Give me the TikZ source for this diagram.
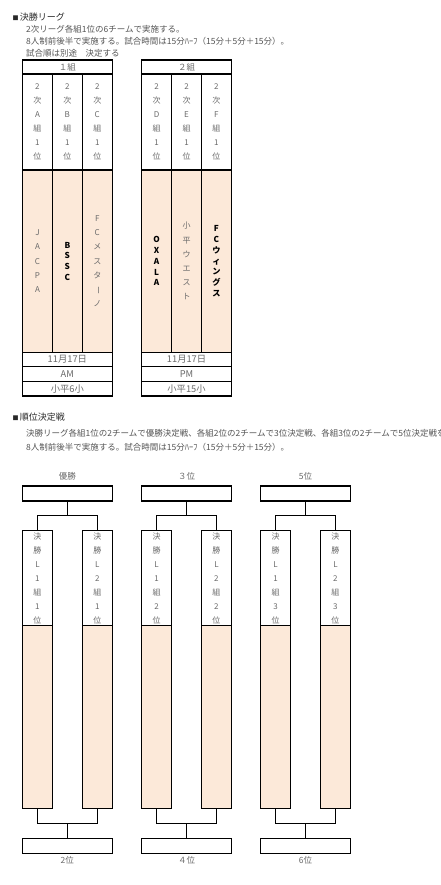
\documentclass[tikz,border=0pt]{standalone}
\usepackage{fontspec}
\setmainfont{Noto Sans CJK JP}
\usepackage{graphicx}
\usetikzlibrary{calc}
\definecolor{peach}{RGB}{252,233,217}
\definecolor{bodycol}{RGB}{85,85,85}
\definecolor{headcol}{RGB}{40,40,40}
\definecolor{cellcol}{RGB}{105,105,105}
\newcommand{\vbarchar}{\rotatebox[origin=c]{-90}{ー}}
\newcommand{\sqbullet}{{\fontsize{6}{6}\selectfont ■}\hspace{1.2pt}}
\begin{document}
\begin{tikzpicture}[x=1pt,y=-1pt,
  frame/.style={draw=black, line width=1.2pt, rectangle, inner sep=0pt, outer sep=0pt, anchor=north west},
  whitecell/.style={frame, minimum width=29.9pt, align=center, text=cellcol, font=\fontsize{8}{14}\selectfont},
  peachcell/.style={frame, fill=peach, minimum width=29.9pt, align=center},
  softtxt/.style={text=cellcol, font=\fontsize{8}{14.2}\selectfont},
  boldtxt/.style={text=black, font=\fontsize{8.2}{10.8}\selectfont\bfseries},
  rowcell/.style={frame, minimum width=89.7pt, text=cellcol, font=\fontsize{9.3}{11}\selectfont},
  bodytext/.style={anchor=west, inner sep=0pt, text=bodycol, font=\fontsize{8.5}{10}\selectfont},
  headtext/.style={anchor=west, inner sep=0pt, text=headcol, font=\fontsize{9}{11}\selectfont},
  labeltxt/.style={inner sep=0pt, text=cellcol, font=\fontsize{8.5}{10}\selectfont}
]
\useasboundingbox (0,0) rectangle (440,885);

% ---------- section 1 text ----------
\node[headtext] (head1) at (12.5,17.5) {\sqbullet 決勝リーグ};
\node[bodytext] (l1a) at (26,29.5) {2次リーグ各組1位の6チームで実施する。};
\node[bodytext] (l1b) at (26,41.5) {8人制前後半で実施する。試合時間は15分ﾊｰﾌ（15分＋5分＋15分）。};
\node[bodytext] (l1c) at (26,53) {試合順は別途　決定する};

% ---------- group 1 ----------
\node[rowcell, minimum height=14pt, font=\fontsize{8.5}{10}\selectfont] (h1) at (22.5,60) {１組};
\node[whitecell, minimum height=96pt] (w1a) at (22.5,74) {2\\次\\A\\組\\1\\位};
\node[whitecell, minimum height=96pt] (w1b) at (52.4,74) {2\\次\\B\\組\\1\\位};
\node[whitecell, minimum height=96pt] (w1c) at (82.3,74) {2\\次\\C\\組\\1\\位};
\node[peachcell, softtxt, minimum height=182.5pt] (p1a) at (22.5,170) {J\\A\\C\\P\\A};
\node[peachcell, boldtxt, minimum height=182.5pt] (p1b) at (52.4,170) {B\\S\\S\\C};
\node[peachcell, softtxt, minimum height=182.5pt] (p1c) at (82.3,170) {F\\C\\メ\\ス\\タ\\\vbarchar\\ノ};
\node[rowcell, minimum height=14pt] (d1) at (22.5,352.5) {11月17日};
\node[rowcell, minimum height=15pt] (t1) at (22.5,366.5) {AM};
\node[rowcell, minimum height=14.5pt] (v1) at (22.5,381.5) {小平6小};

% ---------- group 2 ----------
\node[rowcell, minimum height=14pt, font=\fontsize{8.5}{10}\selectfont] (h2) at (141.7,60) {２組};
\node[whitecell, minimum height=96pt] (w2a) at (141.7,74) {2\\次\\D\\組\\1\\位};
\node[whitecell, minimum height=96pt] (w2b) at (171.6,74) {2\\次\\E\\組\\1\\位};
\node[whitecell, minimum height=96pt] (w2c) at (201.5,74) {2\\次\\F\\組\\1\\位};
\node[peachcell, boldtxt, minimum height=182.5pt] (p2a) at (141.7,170) {O\\X\\A\\L\\A};
\node[peachcell, softtxt, minimum height=182.5pt] (p2b) at (171.6,170) {小\\平\\ウ\\エ\\ス\\ト};
\node[peachcell, boldtxt, minimum height=182.5pt] (p2c) at (201.5,170) {F\\C\\ウ\\ィ\\ン\\グ\\ス};
\node[rowcell, minimum height=14pt] (d2) at (141.7,352.5) {11月17日};
\node[rowcell, minimum height=15pt] (t2) at (141.7,366.5) {PM};
\node[rowcell, minimum height=14.5pt] (v2) at (141.7,381.5) {小平15小};

% ---------- section 2 text ----------
\node[headtext] (head2) at (12.5,417.5) {\sqbullet 順位決定戦};
\node[bodytext] (l2a) at (26,433) {決勝リーグ各組1位の2チームで優勝決定戦、各組2位の2チームで3位決定戦、各組3位の2チームで5位決定戦を実施する。};
\node[bodytext] (l2b) at (26,447) {8人制前後半で実施する。試合時間は15分ﾊｰﾌ（15分＋5分＋15分）。};

% ---------- brackets ----------
\foreach \i/\x/\tl/\bl/\rk in {1/22.5/優勝/2位/1, 2/141.7/３位/４位/2, 3/260.7/5位/6位/3} {
  \node[frame, minimum width=89.7pt, minimum height=15pt] (tb\i) at (\x,486) {};
  \node[labeltxt] (tl\i) at ($(tb\i.north)+(0,-9.5)$) {\tl};
  \node[whitecell, minimum height=95pt] (a\i) at (\x,530.7) {決\\勝\\L\\1\\組\\\rk\\位};
  \node[whitecell, minimum height=95pt] (b\i) at (\x+59.8,530.7) {決\\勝\\L\\2\\組\\\rk\\位};
  \node[peachcell, minimum height=182.6pt] (oa\i) at (\x,625.7) {};
  \node[peachcell, minimum height=182.6pt] (ob\i) at (\x+59.8,625.7) {};
  \node[frame, minimum width=89.7pt, minimum height=15pt] (mb\i) at (\x,838.3) {};
  \node[labeltxt] (ml\i) at ($(mb\i.south)+(0,7)$) {\bl};
  \coordinate (j\i) at ($(tb\i.south)+(0,14.2)$);
  \coordinate (k\i) at ($(mb\i.north)+(0,-15)$);
  \draw[line width=1.2pt] (tb\i.south) -- (j\i);
  \draw[line width=1.2pt] (a\i.north) |- (j\i) -| (b\i.north);
  \draw[line width=1.2pt] (mb\i.north) -- (k\i);
  \draw[line width=1.2pt] (oa\i.south) |- (k\i) -| (ob\i.south);
}
\end{tikzpicture}
\end{document}
